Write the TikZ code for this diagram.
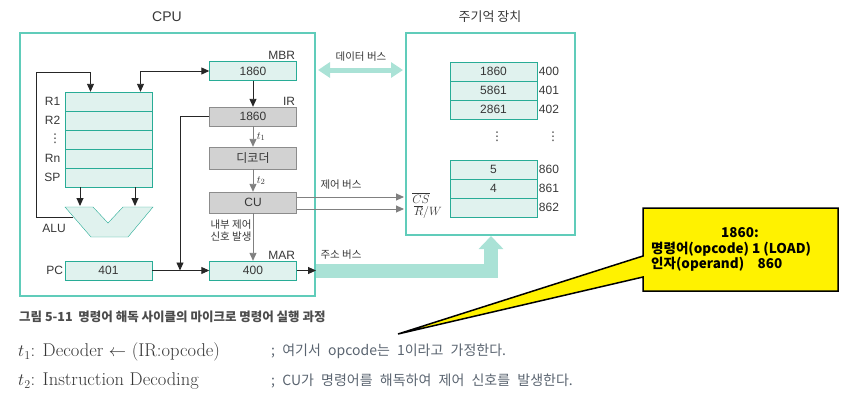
\documentclass[tikz,border=0pt]{standalone}
\usepackage{fontspec}
\usepackage{amsmath, amssymb}
\usepackage{xcolor}
\setsansfont{Liberation Sans}
\newfontfamily\kr{Noto Sans CJK KR}
\newfontfamily\dejavu{DejaVu Sans}
\newcommand{\vdts}{{\dejavu ⋮}}
\newcommand{\widesp}{\spaceskip=7.2pt plus 1pt\relax}
\usetikzlibrary{arrows.meta}

\definecolor{tealln}{RGB}{96,204,186}
\definecolor{tealdk}{RGB}{40,172,150}
\definecolor{tealbg}{RGB}{224,242,238}
\definecolor{busc}{RGB}{170,226,214}
\definecolor{grayln}{RGB}{140,140,140}
\definecolor{graybg}{RGB}{210,210,210}
\definecolor{grayar}{RGB}{128,128,128}
\definecolor{txt}{RGB}{55,55,55}
\definecolor{notetxt}{RGB}{90,100,112}

\tikzset{
  regbox/.style={draw=tealdk, fill=tealbg, minimum width=87pt, minimum height=19pt, inner sep=0pt,
    text=txt, font=\sffamily\fontsize{12}{12}\selectfont},
  graybox/.style={regbox, draw=grayln, fill=graybg},
  lbl/.style={text=txt, inner sep=1.5pt, font=\sffamily\fontsize{12}{12}\selectfont},
  dotlbl/.style={text=txt, inner sep=0pt, font=\fontsize{12}{12}\selectfont},
  krlbl/.style={text=txt, inner sep=1pt, font=\kr\fontsize{10.5}{12.5}\selectfont},
  title/.style={text=txt, font=\sffamily\fontsize{14}{14}\selectfont},
  notefont/.style={font=\kr\bfseries\fontsize{13.5}{13.5}\selectfont},
  remark/.style={anchor=west, inner sep=0pt, text=notetxt,
    font=\kr\fontsize{14}{14}\selectfont\widesp},
  arr/.style={-{Triangle[width=7pt,length=8pt]}, line width=0.9pt, black!85},
  garr/.style={arr, grayar},
}

\begin{document}
\begin{tikzpicture}[x=1pt,y=-1pt]
\useasboundingbox (0,0) rectangle (841,405);

\draw[tealln, line width=1.3pt] (20,33) rectangle (315,296);
\node[title] (cputitle) at (167,17) {CPU};
\draw[tealln, line width=1.3pt] (406,33) rectangle (575,235);
\node[title, font=\kr\fontsize{13}{13}\selectfont] (memtitle) at (490,17) {주기억 장치};

% registers
\foreach \lab [count=\i] in {R1,R2,,Rn,SP}{
  \node[regbox] (reg\i) at (108.5,{82.5+19*\i}) {};
  \node[lbl, anchor=east] (rlab\i) at (62,{82.5+19*\i}) {\lab};
}
\node[dotlbl] (rdots) at (55,139) {\vdts};

% ALU
\draw[tealdk, fill=tealbg] (65,207) -- (93,207) -- (108,223) -- (123,207) -- (153,207) -- (128,237) -- (91,237) -- cycle;
\node[lbl] (alu) at (54,228) {ALU};
\coordinate (aluout) at (73,217);
\coordinate (alua) at (80,206);
\coordinate (alub) at (135,206);

\node[regbox] (mbr) at (253,71) {1860};
\node[lbl, anchor=south east] (mbrlab) at (mbr.north east) {MBR};
\node[graybox] (ir) at (253,116.5) {1860};
\node[lbl, anchor=south east] (irlab) at (ir.north east) {IR};
\node[graybox, minimum height=22pt, font=\kr\fontsize{12}{12}\selectfont] (dec) at (253,158) {디코더};
\node[graybox, minimum height=21pt] (cu) at (253,202.5) {CU};
\node[regbox] (mar) at (253,270.5) {400};
\node[lbl, anchor=south east] (marlab) at (mar.north east) {MAR};
\node[regbox] (pc) at (108.5,270.5) {401};
\node[lbl, anchor=east] (pclab) at (pc.west) {PC};

% memory
\foreach \val/\adr [count=\i] in {1860/400,5861/401,2861/402}{
  \node[regbox] (mem\i) at (493.5,{52.5+19*\i}) {\val};
  \node[lbl, anchor=west] (adr\i) at (mem\i.east) {\adr};
}
\foreach \val/\adr [count=\i] in {5/860,4/861,{}/862}{
  \node[regbox] (cell\i) at (493.5,{150.5+19*\i}) {\val};
  \node[lbl, anchor=west] (cadr\i) at (cell\i.east) {\adr};
}
\node[dotlbl] (dots1) at (497,137) {\vdts};
\node[dotlbl] (dots2) at (553,137) {\vdts};

% connectors
\draw[arr] (aluout) -| (36,72) -| ([xshift=-18pt]reg1.north);
\draw[arr, {Triangle[width=7pt,length=8pt]}-{Triangle[width=7pt,length=8pt]}] ([xshift=32pt]reg1.north) |- (mbr.west);
\draw[arr] (reg5.south -| alua) -- (alua);
\draw[arr] (reg5.south -| alub) -- (alub);
\draw[arr] (mbr) -- (ir);
\draw[garr] (ir) -- node[right, text=txt, font=\fontsize{11}{11}\selectfont]{$t_1$} (dec);
\draw[garr] (dec) -- node[right, text=txt, font=\fontsize{11}{11}\selectfont]{$t_2$} (cu);
\draw[garr] (cu) -- node[krlbl, left, align=center, pos=0.36]{내부 제어\\신호 발생} (mar);
\coordinate (jn) at (180,270.5);
\draw[arr] (ir.west) -| (jn);
\draw[arr] (pc) -- (mar);

% buses
\coordinate (cpuout) at (316,270.5);
\draw[busc, line width=14pt, -{Triangle[width=24pt,length=13pt]}] (cpuout) -| (491,236);
\draw[arr] (mar) -- (cpuout);
\node[krlbl] (abus) at (341,255) {주소 버스};
\draw[busc, line width=5pt, {Triangle[width=15pt,length=12pt]}-{Triangle[width=15pt,length=12pt]}] (318,70) -- (403,70);
\node[krlbl] (dbus) at (361,57) {데이터 버스};
\coordinate (cs) at (404,197);
\coordinate (rw) at (404,209);
\draw[garr] (cu.east |- cs) -- (cs);
\draw[garr] (cu.east |- rw) -- (rw);
\node[krlbl] (cbus) at (341,185) {제어 버스};
\node[text=txt, font=\fontsize{12}{12}\selectfont] (cslab) at (421,198) {$\overline{CS}$};
\node[text=txt, font=\fontsize{12}{12}\selectfont] (rwlab) at (428,212) {$\overline{R}/W$};

% callout
\draw[black, line width=1.5pt, fill=yellow] (643,208) -- (838,208) -- (838,291) -- (643,291) -- (643,277) -- (398,334) -- (643,256) -- cycle;
\node[notefont] (n1) at (740,233) {1860:};
\node[notefont, anchor=west, inner sep=0pt] (n2) at (651,249) {명령어(opcode) 1 (LOAD)};
\node[notefont, anchor=west, inner sep=0pt] (n3) at (651,264) {인자(operand)\quad 860};

% caption and notes
\node[anchor=west, inner sep=0pt, text=black!70, font=\kr\bfseries\fontsize{12.5}{12.5}\selectfont] (cap) at (19,317) {그림 5-11\ \ 명령어 해독 사이클의 마이크로 명령어 실행 과정};
\node[anchor=west, inner sep=0pt, text=txt, font=\fontsize{18.5}{18.5}\selectfont] (t1) at (18,352) {$t_1$: Decoder $\leftarrow$ (IR:opcode)};
\node[anchor=west, inner sep=0pt, text=txt, font=\fontsize{18.5}{18.5}\selectfont] (t2) at (18,381) {$t_2$: Instruction Decoding};
\node[remark] (c1) at (271,351) {; 여기서 opcode는 1이라고 가정한다.};
\node[remark] (c2) at (271,381) {; CU가 명령어를 해독하여 제어 신호를 발생한다.};
\end{tikzpicture}
\end{document}
